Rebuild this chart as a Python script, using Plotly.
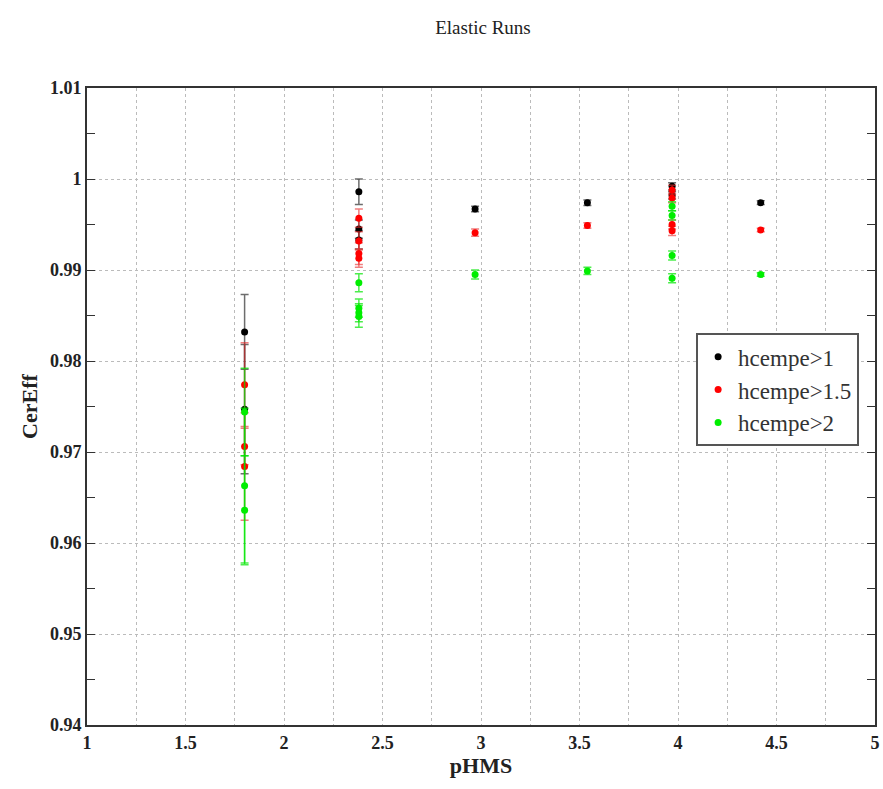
import plotly.graph_objects as go

# ---------------- data ----------------
series_names = ["hcempe>1", "hcempe>1.5", "hcempe>2"]

x_black = [1.80, 1.80, 2.38, 2.38, 2.38, 2.97, 3.54, 3.97, 3.97, 4.42]
y_black = [0.9832, 0.9747, 0.9986, 0.9945, 0.9933, 0.9967, 0.9974, 0.9992, 0.9982, 0.9974]
e_black = [0.0041, 0.0071, 0.0014, 0.0010, 0.0010, 0.0003, 0.0003, 0.0004, 0.0004, 0.0002]

x_red = [1.80, 1.80, 1.80, 2.38, 2.38, 2.38, 2.38, 2.97, 3.54, 3.97, 3.97, 3.97, 3.97, 4.42]
y_red = [0.9774, 0.9706, 0.9684, 0.9957, 0.9932, 0.9918, 0.9913, 0.9941, 0.9949, 0.9988, 0.9979, 0.9950, 0.9943, 0.9944]
e_red = [0.0046, 0.0020, 0.0059, 0.0010, 0.0010, 0.0012, 0.0010, 0.0004, 0.0003, 0.0005, 0.0005, 0.0005, 0.0005, 0.0002]

x_green = [1.80, 1.80, 1.80, 2.38, 2.38, 2.38, 2.38, 2.97, 3.54, 3.97, 3.97, 3.97, 3.97, 4.42]
y_green = [0.9744, 0.9663, 0.9636, 0.9886, 0.9858, 0.9849, 0.9853, 0.9895, 0.9899, 0.9970, 0.9960, 0.9916, 0.9891, 0.9895]
e_green = [0.0048, 0.0085, 0.0060, 0.0010, 0.0010, 0.0012, 0.0010, 0.0005, 0.0004, 0.0005, 0.0005, 0.0005, 0.0005, 0.0002]

y_tickvals = [0.94, 0.95, 0.96, 0.97, 0.98, 0.99, 1.00, 1.01]
y_ticktext = ["0.94", "0.95", "0.96", "0.97", "0.98", "0.99", "1", "1.01"]
x_tickvals = [1, 1.5, 2, 2.5, 3, 3.5, 4, 4.5, 5]
x_ticktext = ["1", "1.5", "2", "2.5", "3", "3.5", "4", "4.5", "5"]

# ---------------- figure ----------------
FONT = "Liberation Serif"
fig = go.Figure()

specs = [
    (x_black, y_black, e_black, "#000000", "rgba(60,60,60,0.75)"),
    (x_red, y_red, e_red, "#ff0000", "rgba(230,40,40,0.6)"),
    (x_green, y_green, e_green, "#00ee00", "rgba(0,230,0,0.7)"),
]
for name, (xs, ys, es, col, ecol) in zip(series_names, specs):
    fig.add_trace(go.Scatter(
        x=xs, y=ys, mode="markers", name=name,
        marker=dict(color=col, size=7, symbol="circle"),
        error_y=dict(type="data", array=es, visible=True,
                     color=ecol, thickness=1.5, width=4),
    ))

fig.update_layout(
    width=883, height=789,
    paper_bgcolor="white", plot_bgcolor="white",
    margin=dict(l=87, r=3, t=88, b=64),
    title=dict(text="Elastic Runs", x=0.547, xanchor="center", y=0.965, yanchor="middle",
               font=dict(family=FONT, size=19, color="#222222")),
    showlegend=True,
    legend=dict(x=0.773, y=0.615, xanchor="left", yanchor="top",
                bgcolor="white", bordercolor="#555555", borderwidth=2,
                font=dict(family=FONT, size=23, color="#333333"),
                itemsizing="trace", tracegroupgap=2),
    font=dict(family=FONT),
)

fig.update_xaxes(
    range=[1, 5], tickvals=x_tickvals, ticktext=x_ticktext,
    showgrid=True, gridcolor="#bbbbbb", griddash="dot", gridwidth=1,
    minor=dict(dtick=0.25, tick0=1, showgrid=True, gridcolor="#bbbbbb", griddash="dot", gridwidth=1),
    ticks="", showline=True, linecolor="#333333", linewidth=2, mirror=True,
    zeroline=False,
    tickfont=dict(family=FONT, size=18, color="#222222", weight="bold"),
    title=dict(text="<b>pHMS</b>", font=dict(family=FONT, size=22, color="#222222"), standoff=6),
)
fig.update_yaxes(
    range=[0.94, 1.01], tickvals=y_tickvals, ticktext=y_ticktext,
    showgrid=True, gridcolor="#bbbbbb", griddash="dot", gridwidth=1,
    ticks="inside", ticklen=8, tickcolor="#333333",
    minor=dict(dtick=0.005, tick0=0.94, ticks="inside", ticklen=8, tickcolor="#333333", showgrid=False),
    showline=True, linecolor="#333333", linewidth=2, mirror="allticks",
    zeroline=False,
    tickfont=dict(family=FONT, size=18, color="#222222", weight="bold"),
    title=dict(text="<b>CerEff</b>", font=dict(family=FONT, size=22, color="#222222"), standoff=6),
)

fig.write_html("out.html")
